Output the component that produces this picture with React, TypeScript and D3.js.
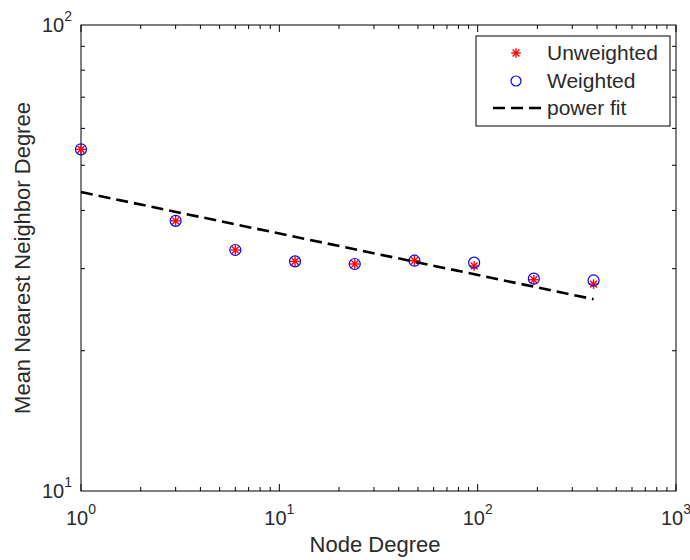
import React from "react";
import * as d3 from "d3";

const nodeDegree = [1, 3, 6, 12, 24, 48, 96, 192, 384];
const unweighted = [54.1, 38.0, 32.9, 31.1, 30.7, 31.2, 30.4, 28.4, 27.8];
const weighted = [54.1, 38.0, 32.9, 31.1, 30.7, 31.2, 30.9, 28.55, 28.3];
const fitX = [1, 384];
const fitY = [43.8, 25.8];
const xMajor = [1, 10, 100, 1000];
const xMajorExp = ["0", "1", "2", "3"];
const yMajor = [10, 100];
const yMajorExp = ["1", "2"];
const legendLabels = ["Unweighted", "Weighted", "power fit"];
const xTitle = "Node Degree";
const yTitle = "Mean Nearest Neighbor Degree";

const W = 690, H = 560;
const L = 81, R = 676, T = 25, B = 491;
const FONT = "'Liberation Sans', Arial, Helvetica, sans-serif";
const TXT = "#2a2a2a";

function minorTicks(lo: number, hi: number) {
  const out: number[] = [];
  for (let d = lo; d < hi; d *= 10) for (let k = 2; k <= 9; k++) out.push(d * k);
  return out;
}

function Asterisk({ cx, cy, s, color }: { cx: number; cy: number; s: number; color: string }) {
  const d = s * 0.7071;
  return (
    <g stroke={color} strokeWidth={1.4}>
      <line x1={cx - s} y1={cy} x2={cx + s} y2={cy} />
      <line x1={cx} y1={cy - s} x2={cx} y2={cy + s} />
      <line x1={cx - d} y1={cy - d} x2={cx + d} y2={cy + d} />
      <line x1={cx - d} y1={cy + d} x2={cx + d} y2={cy - d} />
    </g>
  );
}

export default function App() {
  const x = d3.scaleLog().domain([1, 1000]).range([L, R]);
  const y = d3.scaleLog().domain([10, 100]).range([B, T]);
  const xMinor = minorTicks(1, 1000);
  const yMinor = minorTicks(10, 100);
  const majLen = 7, minLen = 4;
  const fitLine = d3.line<number>().x((_, i) => x(fitX[i])).y((v) => y(v));

  const lgL = 476, lgR = 670, lgT = 36, lgB = 126;
  const rowY = [53, 81, 108];

  return (
    <svg width={W} height={H} style={{ position: "absolute", left: 0, top: 0, background: "#fff" }} fontFamily={FONT}>
      <rect x={0} y={0} width={W} height={H} fill="#fff" />
      {/* ticks */}
      <g stroke="#000" strokeWidth={1}>
        {xMinor.map((v) => (
          <g key={"xm" + v}>
            <line x1={x(v)} x2={x(v)} y1={B} y2={B - minLen} />
            <line x1={x(v)} x2={x(v)} y1={T} y2={T + minLen} />
          </g>
        ))}
        {xMajor.map((v) => (
          <g key={"xM" + v}>
            <line x1={x(v)} x2={x(v)} y1={B} y2={B - majLen} />
            <line x1={x(v)} x2={x(v)} y1={T} y2={T + majLen} />
          </g>
        ))}
        {yMinor.map((v) => (
          <g key={"ym" + v}>
            <line x1={L} x2={L + minLen} y1={y(v)} y2={y(v)} />
            <line x1={R} x2={R - minLen} y1={y(v)} y2={y(v)} />
          </g>
        ))}
      </g>
      <rect x={L} y={T} width={R - L} height={B - T} fill="none" stroke="#000" strokeWidth={1} />
      {/* tick labels */}
      {xMajor.map((v, i) => (
        <text key={"xl" + v} x={x(v)} y={B + 34} textAnchor="middle" fontSize={20} fill={TXT}>
          <tspan>10</tspan>
          <tspan dy={-11} fontSize={14}>{xMajorExp[i]}</tspan>
        </text>
      ))}
      {yMajor.map((v, i) => (
        <text key={"yl" + v} x={L - 9} y={y(v) + 7} textAnchor="end" fontSize={20} fill={TXT}>
          <tspan>10</tspan>
          <tspan dy={-11} fontSize={14}>{yMajorExp[i]}</tspan>
        </text>
      ))}
      {/* axis titles */}
      <text x={375} y={552} textAnchor="middle" fontSize={22} fill={TXT}>{xTitle}</text>
      <text transform={`translate(30,${(T + B) / 2}) rotate(-90)`} textAnchor="middle" fontSize={22} fill={TXT}>{yTitle}</text>
      {/* data */}
      {nodeDegree.map((d, i) => (
        <Asterisk key={"u" + i} cx={x(d)} cy={y(unweighted[i])} s={4.8} color="#ff0000" />
      ))}
      {nodeDegree.map((d, i) => (
        <circle key={"w" + i} cx={x(d)} cy={y(weighted[i])} r={5.5} fill="none" stroke="#0000ff" strokeWidth={1.2} />
      ))}
      <path d={fitLine(fitY) || ""} fill="none" stroke="#000" strokeWidth={2.6} strokeDasharray="12 6" />
      {/* legend */}
      <rect x={lgL} y={lgT} width={lgR - lgL} height={lgB - lgT} fill="#fff" stroke="#000" strokeWidth={1} />
      <Asterisk cx={516} cy={rowY[0]} s={4.8} color="#ff0000" />
      <circle cx={516} cy={rowY[1]} r={5} fill="none" stroke="#0000ff" strokeWidth={1.2} />
      <line x1={493} x2={542} y1={rowY[2]} y2={rowY[2]} stroke="#000" strokeWidth={2.6} strokeDasharray="12 6" />
      {legendLabels.map((t, i) => (
        <text key={t} x={547} y={rowY[i] + 7} fontSize={21} fill={TXT}>{t}</text>
      ))}
    </svg>
  );
}
